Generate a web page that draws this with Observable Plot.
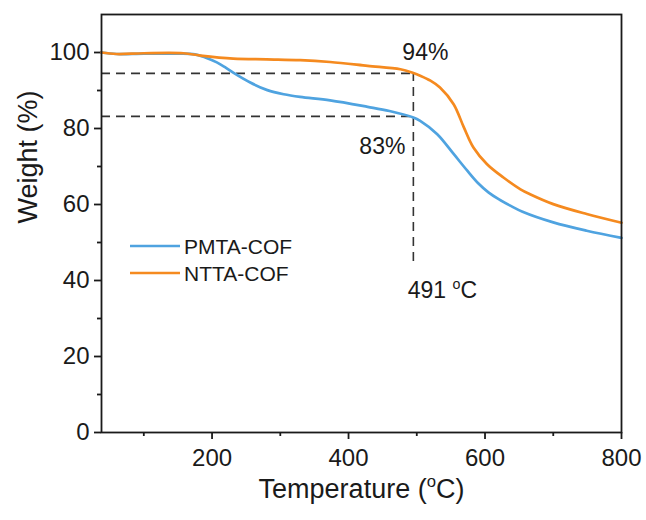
<!DOCTYPE html>
<html><head><meta charset="utf-8">
<script src="https://cdn.jsdelivr.net/npm/d3@7"></script>
<script src="https://cdn.jsdelivr.net/npm/@observablehq/plot@0.6"></script>
<style>
body{margin:0;background:#fff;}
#chart{position:relative;width:646px;height:520px;}
</style>
</head><body><div id="chart"></div>
<script>
// ---- data ----
const seriesNames = ["PMTA-COF", "NTTA-COF"];
const seriesColors = ["#4fa3e0", "#f58a1f"];

const pmtaTemp   = [38, 60, 100, 150, 175, 190, 207, 220, 231, 256, 281, 305, 329, 373, 428, 460, 495, 505, 530, 554, 574, 590, 605, 620, 637, 655, 700, 749, 800];
const pmtaWeight = [100.0, 99.6, 99.7, 99.7, 99.5, 98.7, 97.4, 96.0, 94.7, 92.1, 90.1, 89.0, 88.3, 87.4, 85.7, 84.6, 82.9, 82.0, 78.5, 73.3, 68.9, 65.6, 63.2, 61.4, 59.7, 58.1, 55.3, 53.1, 51.2];

const nttaTemp   = [38, 60, 100, 158, 183, 231, 280, 329, 373, 428, 476, 495, 505, 520, 534, 554, 569, 583, 603, 627, 652, 666, 700, 749, 800];
const nttaWeight = [100.0, 99.6, 99.8, 99.8, 99.2, 98.4, 98.2, 98.0, 97.5, 96.5, 95.6, 94.6, 93.9, 92.6, 90.8, 86.4, 80.3, 75.0, 70.6, 67.1, 64.0, 62.7, 60.1, 57.5, 55.2];

const xDomain = [38, 800];
const yDomain = [0, 110];
const xMajorTicks = [200, 400, 600, 800];
const xMinorTicks = [100, 300, 500, 700];
const yMajorTicks = [0, 20, 40, 60, 80, 100];
const yMinorTicks = [10, 30, 50, 70, 90];

const onsetTemp = 495;
const onsetWeights = [94.5, 83.2];
const onsetLabels = ["94%", "83%"];
const dropBottom = 45;
const tempLabel = "491 °C";

const xLabel = "Temperature (°C)";
const yLabel = "Weight (%)";

// ---- build ----
const rows = [
  ...pmtaTemp.map((t, i) => ({series: seriesNames[0], temp: t, weight: pmtaWeight[i]})),
  ...nttaTemp.map((t, i) => ({series: seriesNames[1], temp: t, weight: nttaWeight[i]}))
];
const ink = "#1a1a1a";
const font = "'Liberation Sans', Arial, sans-serif";

const plot = Plot.plot({
  width: 646,
  height: 520,
  marginLeft: 101,
  marginRight: 25,
  marginTop: 14,
  marginBottom: 88,
  style: {fontFamily: font, color: ink, background: "#fff"},
  x: {domain: xDomain},
  y: {domain: yDomain},
  color: {domain: seriesNames, range: seriesColors},
  marks: [
    Plot.axisX(xMajorTicks, {tickSize: 7, tickPadding: 9, fontSize: 24, strokeWidth: 1.8, label: null}),
    Plot.axisX(xMinorTicks, {tickSize: 4, tickFormat: () => "", strokeWidth: 1.8, label: null}),
    Plot.axisY(yMajorTicks, {tickSize: 7, tickPadding: 5, fontSize: 24, strokeWidth: 1.8, label: null}),
    Plot.axisY(yMinorTicks, {tickSize: 4, tickFormat: () => "", strokeWidth: 1.8, label: null}),
    Plot.ruleY(onsetWeights, {x1: xDomain[0], x2: onsetTemp, stroke: "#333", strokeWidth: 1.6, strokeDasharray: "9,6"}),
    Plot.ruleX([onsetTemp], {y1: dropBottom, y2: onsetWeights[0], stroke: "#333", strokeWidth: 1.6, strokeDasharray: "9,6"}),
    Plot.line(rows, {x: "temp", y: "weight", stroke: "series", z: "series", strokeWidth: 2.7, curve: "catmull-rom"}),
    Plot.frame({stroke: ink, strokeWidth: 1.8}),
    Plot.text([onsetLabels[0]], {x: () => onsetTemp, y: () => onsetWeights[0], text: d => d, dx: 12, dy: -21, fontSize: 23, fill: ink}),
    Plot.text([onsetLabels[1]], {x: () => onsetTemp, y: () => onsetWeights[1], text: d => d, dx: -31, dy: 30, fontSize: 23, fill: ink}),
    Plot.text([tempLabel], {x: () => onsetTemp, y: () => dropBottom, text: d => d, dx: 29, dy: 29, fontSize: 23, fill: ink}),
    Plot.text([xLabel], {frameAnchor: "bottom", dy: 65, fontSize: 27, fill: ink}),
    Plot.text([yLabel], {frameAnchor: "left", dx: -73, rotate: -90, fontSize: 27, fill: ink})
  ]
});

document.getElementById("chart").append(plot);

// superscript "o" for the degree sign
const NS = "http://www.w3.org/2000/svg";
plot.querySelectorAll("text").forEach(t => {
  if (t.querySelector("tspan")) return;
  const s = t.textContent;
  const i = s.indexOf("°");
  if (i < 0) return;
  const fs = parseFloat(getComputedStyle(t).fontSize) || 24;
  t.textContent = "";
  const a = document.createElementNS(NS, "tspan"); a.textContent = s.slice(0, i);
  const o = document.createElementNS(NS, "tspan"); o.textContent = "o";
  o.setAttribute("font-size", (fs * 0.62).toFixed(1)); o.setAttribute("dy", (-fs * 0.38).toFixed(1));
  const c = document.createElementNS(NS, "tspan"); c.textContent = s.slice(i + 1);
  c.setAttribute("dy", (fs * 0.38).toFixed(1));
  t.append(a, o, c);
});

// legend
const svg = d3.select(plot);
const lg = svg.append("g").attr("font-family", font).attr("font-size", 21).attr("fill", ink)
  .attr("text-anchor", "start");
seriesNames.forEach((name, i) => {
  const y = 246 + i * 27;
  lg.append("line").attr("x1", 130).attr("x2", 180).attr("y1", y).attr("y2", y)
    .attr("stroke", seriesColors[i]).attr("stroke-width", 2.7);
  lg.append("text").attr("x", 184).attr("y", y).attr("dy", "0.36em")
    .attr("text-anchor", "start").text(name);
});
</script>
</body></html>
